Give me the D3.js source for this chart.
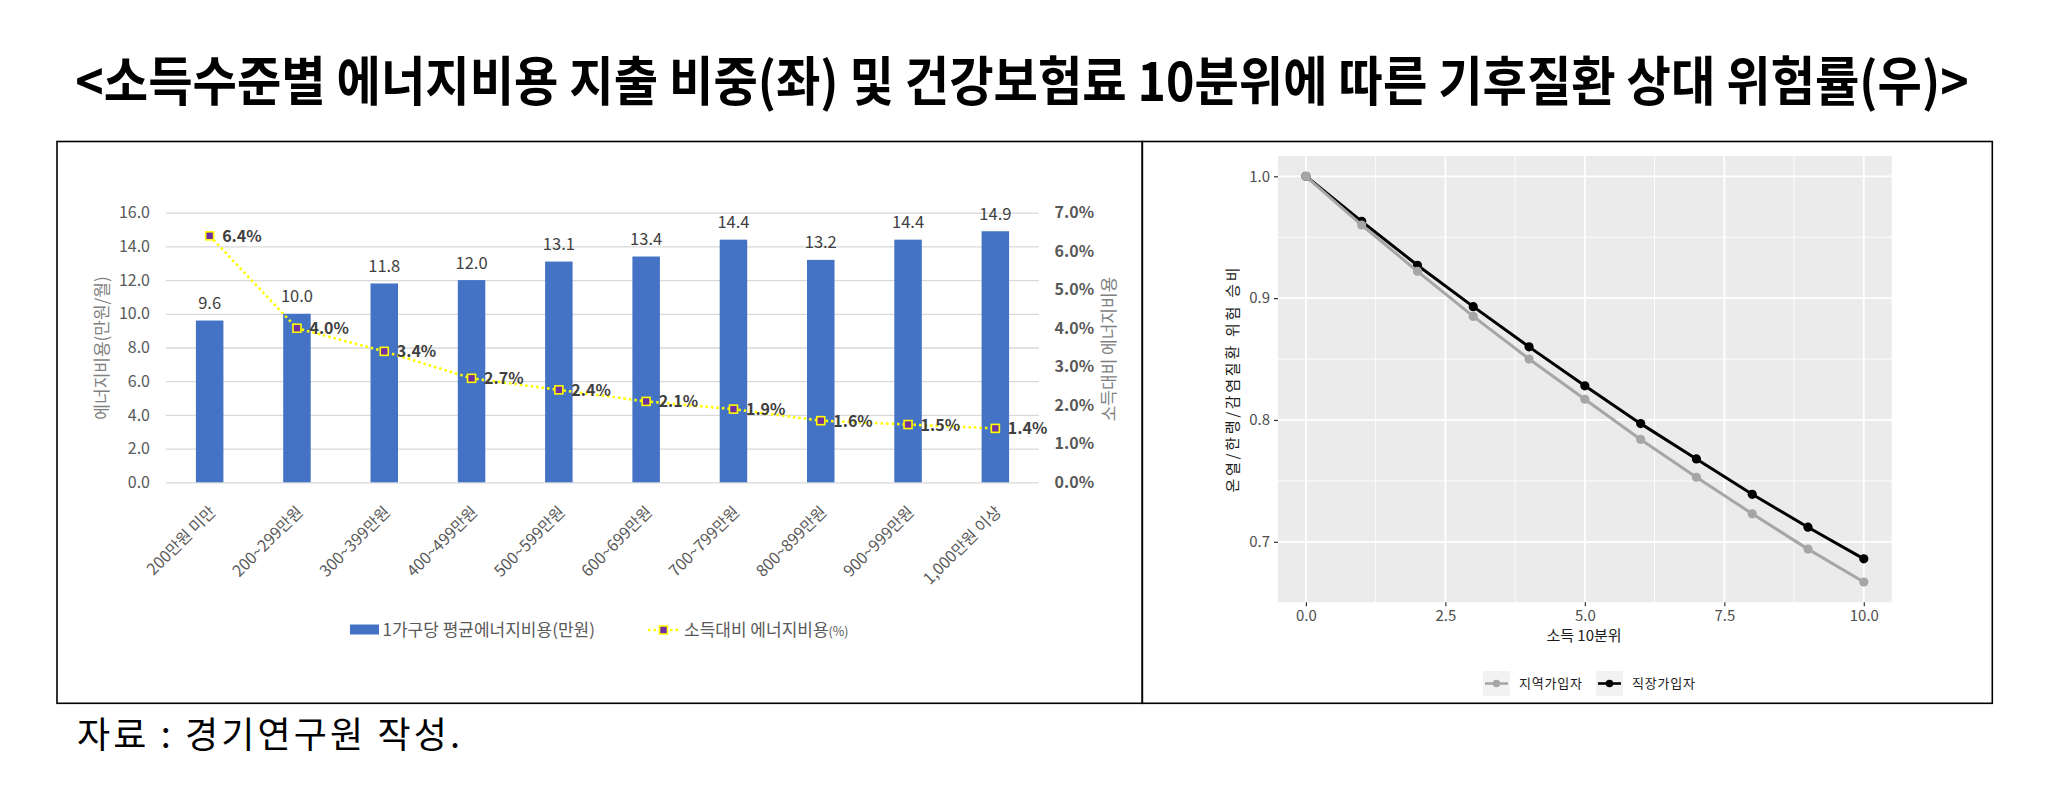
<!DOCTYPE html>
<html>
<head>
<meta charset="utf-8">
<script src="https://cdn.jsdelivr.net/npm/d3@7"></script>
<style>
body { margin: 0; background: #fff; }
text { font-family: "Noto Sans CJK KR", "Noto Sans", sans-serif; }
</style>
</head>
<body>
<svg id="chart" width="2060" height="786"></svg>
<script>
// left: energy cost by income level
var incomeGroups = ["200만원 미만", "200~299만원", "300~399만원", "400~499만원", "500~599만원",
                    "600~699만원", "700~799만원", "800~899만원", "900~999만원", "1,000만원 이상"];
var energyCost = [9.6, 10.0, 11.8, 12.0, 13.1, 13.4, 14.4, 13.2, 14.4, 14.9];
var energyShare = [6.4, 4.0, 3.4, 2.7, 2.4, 2.1, 1.9, 1.6, 1.5, 1.4];
var costTicks = [0, 2, 4, 6, 8, 10, 12, 14, 16];
var shareTicks = [0, 1, 2, 3, 4, 5, 6, 7];

// right: relative risk by insurance-premium decile
var deciles = [0, 1, 2, 3, 4, 5, 6, 7, 8, 9, 10];
var regionalRisk = [1.0, 0.960, 0.922, 0.885, 0.850, 0.817, 0.784, 0.753, 0.723, 0.694, 0.667];
var workplaceRisk = [1.0, 0.963, 0.927, 0.893, 0.860, 0.828, 0.797, 0.768, 0.739, 0.712, 0.686];
var decileTicks = [0, 2.5, 5, 7.5, 10];
var decileMinor = [1.25, 3.75, 6.25, 8.75];
var riskTicks = [0.7, 0.8, 0.9, 1.0];
var riskMinor = [0.75, 0.85, 0.95];

var svg = d3.select("#chart");

// title: condensed by a horizontal scale so it keeps its real width
var title = svg.append("text")
    .attr("x", 0).attr("y", 0)
    .attr("text-anchor", "middle")
    .attr("font-size", 53).attr("font-weight", "bold")
    .text("<소득수준별 에너지비용 지출 비중(좌) 및 건강보험료 10분위에 따른 기후질환 상대 위험률(우)>");
var tw = title.node().getComputedTextLength();
title.attr("transform", "translate(1022,101) scale(" + (1894 / tw) + ",1)");

svg.append("text")
    .attr("x", 77).attr("y", 748)
    .attr("font-size", 36)
    .attr("textLength", 383).attr("lengthAdjust", "spacing")
    .text("자료 : 경기연구원 작성.");

// ---------- left chart ----------
var L = svg.append("g");
var x1 = d3.scaleBand().domain(incomeGroups).range([166, 1039]);
var y1 = d3.scaleLinear().domain([0, 16]).range([482.3, 212.7]);
var y1r = d3.scaleLinear().domain([0, 7]).range([482.3, 212.7]);
var barW = x1.bandwidth() * 0.315;
function cx(d) { return x1(d) + x1.bandwidth() / 2; }

var grid = L.append("g").attr("transform", "translate(166,0)")
    .call(d3.axisLeft(y1).tickValues(costTicks).tickSize(-873).tickFormat(""));
grid.select(".domain").remove();
grid.selectAll("line").attr("stroke", "#d9d9d9").attr("stroke-width", 1.3);

var yl = L.append("g").attr("transform", "translate(166,0)")
    .call(d3.axisLeft(y1).tickValues(costTicks).tickSize(0).tickPadding(16).tickFormat(d3.format(".1f")));
yl.select(".domain").remove();
yl.selectAll("text").attr("font-size", 16).attr("fill", "#595959")
    .attr("font-family", "Noto Sans CJK KR");

var yr = L.append("g").attr("transform", "translate(1039,0)")
    .call(d3.axisRight(y1r).tickValues(shareTicks).tickSize(0).tickPadding(15.6)
        .tickFormat(function (d) { return d.toFixed(1) + "%"; }));
yr.select(".domain").remove();
yr.selectAll("text").attr("font-size", 16).attr("fill", "#595959").attr("font-weight", "bold")
    .attr("font-family", "Noto Sans CJK KR");

L.selectAll(".bar").data(energyCost).enter().append("rect")
    .attr("x", function (d, i) { return cx(incomeGroups[i]) - barW / 2; })
    .attr("y", function (d) { return y1(d); })
    .attr("width", barW)
    .attr("height", function (d) { return y1(0) - y1(d); })
    .attr("fill", "#4472c4");

L.selectAll(".barlab").data(energyCost).enter().append("text")
    .attr("x", function (d, i) { return cx(incomeGroups[i]); })
    .attr("y", function (d) { return y1(d) - 11.5; })
    .attr("text-anchor", "middle").attr("font-size", 16.5).attr("fill", "#404040")
    .text(function (d) { return d.toFixed(1); });

L.selectAll(".cat").data(incomeGroups).enter().append("text")
    .attr("transform", function (d) { return "translate(" + (cx(d) + 3) + ",509) rotate(-45)"; })
    .attr("text-anchor", "end").attr("dy", "0.35em")
    .attr("font-size", 16).attr("fill", "#595959")
    .text(function (d) { return d; });

var shareLine = d3.line()
    .x(function (d, i) { return cx(incomeGroups[i]); })
    .y(function (d) { return y1r(d); });
L.append("path").datum(energyShare)
    .attr("d", shareLine)
    .attr("fill", "none").attr("stroke", "#ffff00")
    .attr("stroke-width", 2.6).attr("stroke-dasharray", "2.5,3");

L.selectAll(".mk").data(energyShare).enter().append("rect")
    .attr("x", function (d, i) { return cx(incomeGroups[i]) - 4; })
    .attr("y", function (d) { return y1r(d) - 4; })
    .attr("width", 8).attr("height", 8)
    .attr("fill", "#7030a0").attr("stroke", "#ffff00").attr("stroke-width", 1.6);

L.selectAll(".pct").data(energyShare).enter().append("text")
    .attr("x", function (d, i) { return cx(incomeGroups[i]) + 12.5; })
    .attr("y", function (d) { return y1r(d) + 6; })
    .attr("font-size", 16).attr("font-weight", "bold").attr("fill", "#404040")
    .text(function (d) { return d.toFixed(1) + "%"; });

L.append("text")
    .attr("transform", "translate(102,348) rotate(-90)")
    .attr("text-anchor", "middle").attr("dy", "0.35em")
    .attr("font-size", 17).attr("fill", "#7f7f7f")
    .text("에너지비용(만원/월)");

L.append("text")
    .attr("transform", "translate(1109,349) rotate(-90)")
    .attr("text-anchor", "middle").attr("dy", "0.35em")
    .attr("font-size", 17).attr("fill", "#7f7f7f")
    .text("소득대비 에너지비용");

// legend
L.append("rect").attr("x", 350).attr("y", 624.5).attr("width", 29).attr("height", 10).attr("fill", "#4472c4");
L.append("text").attr("x", 382.5).attr("y", 630).attr("dy", "0.35em")
    .attr("font-size", 17).attr("fill", "#595959").text("1가구당 평균에너지비용(만원)");
L.append("line").attr("x1", 648).attr("x2", 678).attr("y1", 630).attr("y2", 630)
    .attr("stroke", "#ffff00").attr("stroke-width", 2.6).attr("stroke-dasharray", "2.5,3");
L.append("rect").attr("x", 659.5).attr("y", 626).attr("width", 8).attr("height", 8)
    .attr("fill", "#7030a0").attr("stroke", "#ffff00").attr("stroke-width", 1.6);
var lg2 = L.append("text").attr("x", 684).attr("y", 630).attr("dy", "0.35em")
    .attr("font-size", 17).attr("fill", "#595959");
lg2.append("tspan").text("소득대비 에너지비용");
lg2.append("tspan").attr("font-size", 12.5).text("(%)");

// ---------- right chart ----------
var R = svg.append("g");
var x2 = d3.scaleLinear().domain([-0.5, 10.5]).range([1278, 1891.7]);
var allRisk = regionalRisk.concat(workplaceRisk);
var rMin = d3.min(allRisk), rMax = d3.max(allRisk), pad = (rMax - rMin) * 0.05;
var y2 = d3.scaleLinear().domain([rMin - pad, rMax + pad]).range([602.3, 156]);

R.append("rect").attr("x", 1278).attr("y", 156).attr("width", 613.7).attr("height", 446.3).attr("fill", "#ebebeb");

R.selectAll(".vmin").data(decileMinor).enter().append("line")
    .attr("x1", x2).attr("x2", x2).attr("y1", 156).attr("y2", 602.3)
    .attr("stroke", "#fff").attr("stroke-width", 0.9);
R.selectAll(".hmin").data(riskMinor).enter().append("line")
    .attr("y1", y2).attr("y2", y2).attr("x1", 1278).attr("x2", 1891.7)
    .attr("stroke", "#fff").attr("stroke-width", 0.9);
R.selectAll(".vmaj").data(decileTicks).enter().append("line")
    .attr("x1", x2).attr("x2", x2).attr("y1", 156).attr("y2", 602.3)
    .attr("stroke", "#fff").attr("stroke-width", 1.8);
R.selectAll(".hmaj").data(riskTicks).enter().append("line")
    .attr("y1", y2).attr("y2", y2).attr("x1", 1278).attr("x2", 1891.7)
    .attr("stroke", "#fff").attr("stroke-width", 1.8);

var xa = R.append("g").attr("transform", "translate(0,602.3)")
    .call(d3.axisBottom(x2).tickValues(decileTicks).tickSize(4).tickPadding(4).tickFormat(d3.format(".1f")));
xa.select(".domain").remove();
xa.selectAll("line").attr("stroke", "#333").attr("stroke-width", 1.2);
xa.selectAll("text").attr("font-size", 15).attr("fill", "#4d4d4d").attr("font-family", "Liberation Sans");

var ya = R.append("g").attr("transform", "translate(1278,0)")
    .call(d3.axisLeft(y2).tickValues(riskTicks).tickSize(4).tickPadding(4).tickFormat(d3.format(".1f")));
ya.select(".domain").remove();
ya.selectAll("line").attr("stroke", "#333").attr("stroke-width", 1.2);
ya.selectAll("text").attr("font-size", 15).attr("fill", "#4d4d4d").attr("font-family", "Liberation Sans");

var riskLine = d3.line()
    .x(function (d, i) { return x2(deciles[i]); })
    .y(function (d) { return y2(d); });

var series = [
    { name: "직장가입자", values: workplaceRisk, color: "#000000" },
    { name: "지역가입자", values: regionalRisk, color: "#a6a6a6" }
];
series.forEach(function (s) {
    R.append("path").datum(s.values).attr("d", riskLine)
        .attr("fill", "none").attr("stroke", s.color).attr("stroke-width", 3);
    R.selectAll(null).data(s.values).enter().append("circle")
        .attr("cx", function (d, i) { return x2(deciles[i]); })
        .attr("cy", function (d) { return y2(d); })
        .attr("r", 4.6).attr("fill", s.color);
});

R.append("text")
    .attr("x", 1584).attr("y", 636).attr("dy", "0.35em")
    .attr("text-anchor", "middle").attr("font-size", 15).attr("fill", "#1a1a1a")
    .text("소득 10분위");

R.append("text")
    .attr("transform", "translate(1233,380) rotate(-90)")
    .attr("text-anchor", "middle").attr("dy", "0.35em")
    .attr("font-size", 15).attr("fill", "#1a1a1a")
    .attr("textLength", 225).attr("lengthAdjust", "spacing")
    .text("온열/한랭/감염질환 위험 승비");

var legendItems = [
    { name: "지역가입자", color: "#a6a6a6", x: 1483 },
    { name: "직장가입자", color: "#000000", x: 1596 }
];
legendItems.forEach(function (it) {
    R.append("rect").attr("x", it.x).attr("y", 671).attr("width", 27).attr("height", 25).attr("fill", "#f2f2f2");
    R.append("line").attr("x1", it.x + 2).attr("x2", it.x + 25).attr("y1", 683.5).attr("y2", 683.5)
        .attr("stroke", it.color).attr("stroke-width", 2.6);
    R.append("circle").attr("cx", it.x + 13.5).attr("cy", 683.5).attr("r", 3.8).attr("fill", it.color);
    R.append("text").attr("x", it.x + 36).attr("y", 683.5).attr("dy", "0.35em")
        .attr("font-size", 13).attr("letter-spacing", 0.8).attr("fill", "#1a1a1a").text(it.name);
});

// panel frames
svg.append("rect").attr("x", 57).attr("y", 141.5).attr("width", 1085.3).attr("height", 561.8)
    .attr("fill", "none").attr("stroke", "#000").attr("stroke-width", 1.6);
svg.append("rect").attr("x", 1142.3).attr("y", 141.5).attr("width", 850).attr("height", 561.8)
    .attr("fill", "none").attr("stroke", "#000").attr("stroke-width", 1.6);
</script>
</body>
</html>
